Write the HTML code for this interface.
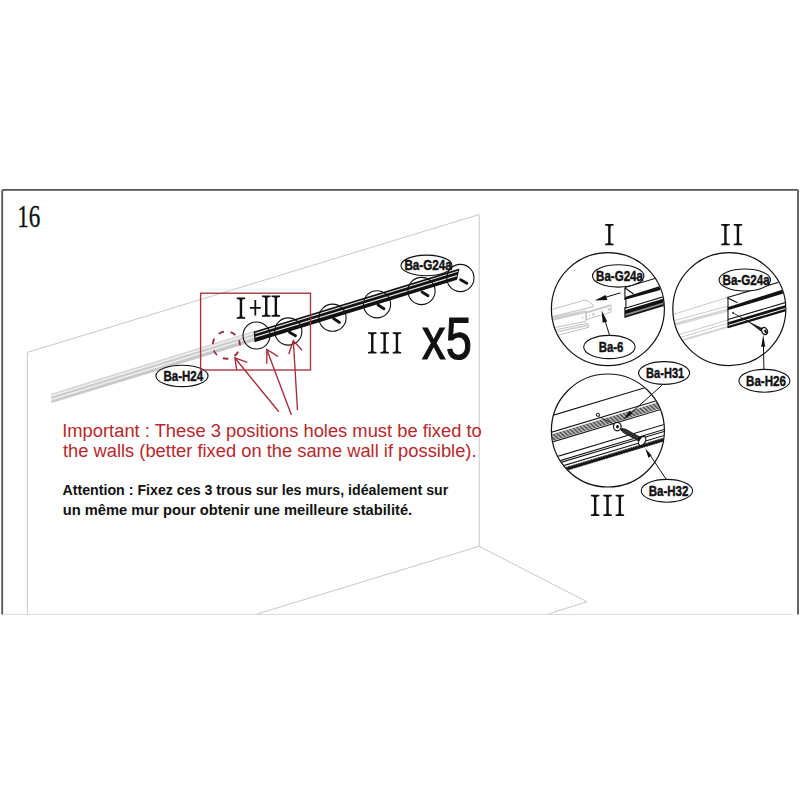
<!DOCTYPE html>
<html><head><meta charset="utf-8">
<style>
html,body{margin:0;padding:0;background:#fff;width:800px;height:800px;overflow:hidden}
svg{display:block;position:absolute;left:0;top:0}
.lbl{font-family:"Liberation Sans",sans-serif;font-weight:700;fill:#111;stroke:#111;stroke-width:0.45}
</style></head>
<body>
<svg width="800" height="800" viewBox="0 0 800 800">
<defs>
  <clipPath id="cI"><circle cx="607.9" cy="309.1" r="56.1"/></clipPath>
  <clipPath id="cII"><circle cx="729.3" cy="309.1" r="56.1"/></clipPath>
  <clipPath id="cIII"><circle cx="607.9" cy="430.5" r="56.1"/></clipPath>
  <path id="rI" d="M0 0 H8.5 V1.45 Q6 1.45 5.45 2.5 V18.7 Q6 19.75 8.5 19.75 V21.2 H0 V19.75 Q2.5 19.75 3.05 18.7 V2.5 Q2.5 1.45 0 1.45 Z" fill="#111"/>
  <pattern id="hatch" patternUnits="userSpaceOnUse" width="6" height="1.25" patternTransform="rotate(-16.7)">
    <rect width="6" height="1.25" fill="#c4c4c4"/><rect width="6" height="0.55" fill="#3a3a3a"/>
  </pattern>
  <pattern id="dots" patternUnits="userSpaceOnUse" width="2.6" height="4" patternTransform="rotate(-16.7)">
    <rect width="2.6" height="4" fill="#111"/><circle cx="1.3" cy="2" r="0.75" fill="#bbb"/>
  </pattern>
</defs>

<!-- frame -->
<path d="M2.2 614.6 V191.2 Q2.2 189.9 3.5 189.9 H796.7 Q798 189.9 798 191.2 V614.6" fill="none" stroke="#555" stroke-width="1.8"/>
<line x1="3" y1="614.5" x2="793" y2="614.5" stroke="#dcdcdc" stroke-width="1"/>

<!-- walls -->
<g stroke="#c9c9c9" stroke-width="1" fill="none">
  <path d="M27.4 614 V352.4 L479.2 214.5 V546.2"/>
  <path d="M256.2 614.3 L479.1 546.3 L587 601.8 L547.3 614.3"/>
</g>

<ellipse cx="426.5" cy="265.4" rx="25.5" ry="10.3" fill="#fff" stroke="#111" stroke-width="1.1"/>
<!-- rail -->
<g>
  <path d="M51.60 393.62 L254.40 330.75 L254.40 341.26 L51.60 403.12 Z" fill="#f5f5f5"/>
  <path d="M51.60 393.62 L255.00 330.57 L255.00 332.17 L51.60 395.22 Z" fill="#d6d6d6"/>
  <path d="M51.60 396.62 L255.00 333.57 L255.00 336.07 L51.60 399.12 Z" fill="#cdcdcd"/>
  <path d="M51.60 400.32 L255.00 337.27 L255.00 341.08 L51.60 403.12 Z" fill="#c9c9c9"/>
  <path d="M52 393.50 V403.00" stroke="#d0d0d0" stroke-width="0.8"/>
  <path d="M253.80 331.51 L459.50 268.56 L457.00 279.75 L254.50 342.32 Z" fill="#111"/>
  <path d="M255.20 332.83 L458.00 270.77 L458.00 271.82 L255.20 333.88 Z" fill="#e6e6e6"/>
  <path d="M255.40 336.62 L457.00 274.93 L457.00 276.13 L255.40 337.82 Z" fill="#e6e6e6"/>
</g>

<!-- rail circles -->
<g fill="none" stroke="#111" stroke-width="1.1">
  <circle cx="256.5" cy="335.5" r="13.5"/>
  <circle cx="288.3" cy="331.5" r="13.6"/>
  <circle cx="332.5" cy="317.7" r="13.6"/>
  <circle cx="377" cy="304.3" r="13.6"/>
  <circle cx="421.5" cy="291" r="13.6"/>
  <circle cx="460.4" cy="278" r="13.6"/>
</g>
<g stroke="#111" stroke-width="2.8" stroke-linecap="round">
  <line x1="289.5" y1="332.3" x2="295.5" y2="335.7"/>
  <line x1="333.5" y1="318.5" x2="339.5" y2="322.5"/>
  <line x1="378" y1="305" x2="384" y2="308.8"/>
  <line x1="422" y1="292" x2="428" y2="295.8"/>
  <line x1="460.6" y1="279.7" x2="466.8" y2="283.2"/>
</g>

<ellipse cx="182" cy="375.9" rx="26" ry="10.7" fill="#fff" stroke="#111" stroke-width="1.1"/>
<!-- red box + arrows -->
<g stroke="#a8303a" fill="none">
  <rect x="200.6" y="293.2" width="109.9" height="76.8" stroke-width="1.35" stroke="#a8323a"/>
  <circle cx="226.3" cy="345.1" r="13.6" stroke-width="1.85" stroke-dasharray="5.6 6.607" stroke-dashoffset="5.3" stroke="#9c2a3c"/>
  <g stroke-width="1.4">
    <path d="M278.8 411.8 L234.8 357.8 M236.8 370.5 L234.8 357.8 L247.3 362.3"/>
    <path d="M291.4 415 L266.8 349.5 M266.8 363.8 L266.8 349.5 L278 356.3"/>
    <path d="M297.5 410.3 L293.3 340.5 M288.8 354 L293.3 340.5 L302 350.3"/>
  </g>
</g>

<!-- main labels -->
<text class="lbl" font-size="15.2" x="163.5" y="381" textLength="39.6" lengthAdjust="spacingAndGlyphs">Ba-H24</text>
<text class="lbl" font-size="14.1" x="404.4" y="270.1" textLength="47.36" lengthAdjust="spacingAndGlyphs">Ba-G24a</text>

<!-- numbers / roman -->
<text x="17.28" y="227.4" font-family="Liberation Serif" font-size="31.6" fill="#111" stroke="#111" stroke-width="0.35" textLength="23.15" lengthAdjust="spacingAndGlyphs">16</text>
<use href="#rI" x="236.7" y="297.6"/>
<path d="M249.9 306.9 H260.8 V308.7 H249.9 Z M254.4 300.1 H256.2 V315.5 H254.4 Z" fill="#111"/>
<use href="#rI" x="262" y="295.5"/>
<use href="#rI" x="271.6" y="295.5"/>
<use href="#rI" x="368" y="332.3"/>
<use href="#rI" x="380.4" y="332.3"/>
<use href="#rI" x="392.7" y="332.3"/>
<text x="422.11" y="359" font-family="Liberation Sans" font-size="59.3" fill="#111" stroke="#111" stroke-width="1.2" textLength="49.69" lengthAdjust="spacingAndGlyphs">x5</text>

<!-- red text -->
<g font-family="Liberation Sans" font-size="18.67" fill="#b8282c">
  <text x="62.22" y="436.5" textLength="419.61" lengthAdjust="spacingAndGlyphs">Important : These 3 positions holes must be fixed to</text>
  <text x="62.9" y="457.1" textLength="413.68" lengthAdjust="spacingAndGlyphs">the walls (better fixed on the same wall if possible).</text>
</g>
<g font-family="Liberation Sans" font-weight="700" font-size="14" fill="#111">
  <text x="62.5" y="494.6" textLength="385.75" lengthAdjust="spacingAndGlyphs">Attention : Fixez ces 3 trous sur les murs, idéalement sur</text>
  <text x="62.7" y="514.5" textLength="349.45" lengthAdjust="spacingAndGlyphs">un même mur pour obtenir une meilleure stabilité.</text>
</g>

<!-- detail roman labels -->
<use href="#rI" x="605.1" y="224"/>
<use href="#rI" x="721.2" y="224"/>
<use href="#rI" x="733.7" y="224"/>
<use href="#rI" x="590.9" y="494.8"/>
<use href="#rI" x="603.3" y="494.8"/>
<use href="#rI" x="615.6" y="494.8"/>

<!-- ===== DETAIL I ===== -->
<g clip-path="url(#cI)">
  <!-- gray rail -->
  <path d="M550 317.4 L586 310 L586 313 L550 321.6 Z" fill="#cfcfcf"/>
  <path d="M557.5 330.8 L587.8 324.4 L588.2 326.2 L558 332.5 Z" fill="#d3d3d3"/>
  <g stroke="#b9b9b9" stroke-width="0.9" fill="none">
    <path d="M548 310.6 L584 300.3 Q586 299.6 588 301 L594 305.8"/>
    <path d="M548 317.6 L594 306.5"/>
    <path d="M586 311 V321.5"/>
    <path d="M548 328.9 L586 321.3"/>
    <path d="M548 331.4 L587.6 323.3"/>
    <path d="M548 337.8 L588.8 327.3 L587.6 323.3"/>
  </g>
  <!-- plate Ba-6 -->
  <path d="M586.3 312.2 L611 304.8 L611 312.2 L586.4 319.5 Z" fill="#fff" stroke="#b0b0b0" stroke-width="0.8"/>
  <path d="M586.3 312.2 L611 304.8 L611 306.2 L586.3 313.6 Z" fill="#c8c8c8"/>
  <g fill="none" stroke="#999" stroke-width="0.6"><circle cx="593.5" cy="314.3" r="0.9"/><circle cx="609" cy="309.5" r="0.9"/></g>
  <g fill="#999"><circle cx="589.5" cy="315.3" r="0.5"/><circle cx="582.5" cy="317.8" r="0.6"/></g>
  <!-- black profile -->
  <g stroke="#111" fill="none" stroke-width="1.1">
    <path d="M625 287.5 L672 273.4"/>
    <path d="M625 288 L633.6 294"/>
    <path d="M624.9 287.5 V300 M625.9 299.5 V307.6 M624.9 307 V317.7"/>
    <path d="M625 308.3 L672 294.2"/>
  </g>
  <path d="M625 296.9 L672 282.2 L672 286.7 L625 299.7 Z" fill="#111"/>
  <path d="M625 310.3 L672 296.2 L672 303.7 L625 317.8 Z" fill="#111"/>
  <path d="M625.5 313.9 L672 299.9 L672 301.6 L625.5 315.9 Z" fill="#8a8a8a"/>
  <!-- arrows -->
  <g stroke="#111" stroke-width="1" fill="#111">
    <path d="M620.5 292.8 L600 298.9"/>
    <path d="M594.8 300.6 L605.6 295.1 L607.3 299.9 Z" stroke="none"/>
    <path d="M609.6 335.5 L603.6 316"/>
    <path d="M601.6 310.5 L602.7 322.8 L607.3 321.4 Z" stroke="none"/>
  </g>
</g>
<g fill="#fff" stroke="#111" stroke-width="1.1">
  <ellipse cx="618.2" cy="275.9" rx="25.7" ry="11.2"/>
  <ellipse cx="609.4" cy="347" rx="25.7" ry="11.6"/>
</g>
<text class="lbl" font-size="14.1" x="596.1" y="280.75" textLength="46.85" lengthAdjust="spacingAndGlyphs">Ba-G24a</text>
<text class="lbl" font-size="15.2" x="598.75" y="352.25" textLength="24.69" lengthAdjust="spacingAndGlyphs">Ba-6</text>
<circle cx="607.9" cy="309.1" r="56.5" fill="none" stroke="#111" stroke-width="1.2"/>

<!-- ===== DETAIL II ===== -->
<g clip-path="url(#cII)">
  <g stroke="#c4c4c4" stroke-width="0.9" fill="none">
    <path d="M670 315.4 L727.4 297.5"/>
    <path d="M670 321.8 L728 306"/>
    <path d="M670 337.3 L728 320"/>
    <path d="M670 340.5 L728 323.2"/>
  </g>
  <path d="M670 324.1 L728 308.6 L728 311.6 L670 327.2 Z" fill="#d6d6d6"/>
  <path d="M670 343 L728 325.7 L728 327.7 L670 345 Z" fill="#d2d2d2"/>
  <g stroke="#111" fill="none" stroke-width="1.1">
    <path d="M727.4 297.5 L792 278.4"/>
    <path d="M727.4 297.7 L737.5 302.8"/>
    <path d="M728 297.5 V328"/>
    <path d="M728 319.5 L792 300.6"/>
  </g>
  <path d="M727.6 307.3 L792 286.6 L792 291 L727.6 310.3 Z" fill="#111"/>
  <path d="M728 322.2 L792 303.1 L792 306 L728 325.1 Z" fill="#111"/>
  <path d="M728 326.1 L792 307 L792 309.4 L728 328.3 Z" fill="#111"/>
  <circle cx="733" cy="312.8" r="0.9" fill="#111"/>
  <path d="M733 312.8 L750 322.6" stroke="#111" stroke-width="0.8"/>
  <path d="M748.79 322.34 L761.95 332.30 L764.05 328.90 L749.21 321.66 Z" fill="#222"/>
  <ellipse cx="764.6" cy="331" rx="2.7" ry="3.7" transform="rotate(-25 764.6 331)" fill="#fff" stroke="#111" stroke-width="1.2"/>
  <ellipse cx="765.5" cy="331.5" rx="1.2" ry="2" transform="rotate(-25 765.5 331.5)" fill="#111"/>
</g>
<g fill="#fff" stroke="#111" stroke-width="1.1">
  <ellipse cx="744.8" cy="280" rx="25.7" ry="11"/>
</g>
<text class="lbl" font-size="14.5" x="722.5" y="285.35" textLength="47.12" lengthAdjust="spacingAndGlyphs">Ba-G24a</text>
<circle cx="729.3" cy="309.1" r="56.5" fill="none" stroke="#111" stroke-width="1.2"/>
<path d="M763.9 369.5 L763.4 344" stroke="#111" stroke-width="1"/>
<path d="M763.2 334.8 L761.2 346.7 L765.2 346.7 Z" fill="#111"/>
<ellipse cx="764.4" cy="380.8" rx="25.5" ry="11.4" fill="#fff" stroke="#111" stroke-width="1.1"/>
<text class="lbl" font-size="14.6" x="746" y="385.9" textLength="39.99" lengthAdjust="spacingAndGlyphs">Ba-H26</text>

<!-- ===== DETAIL III ===== -->
<g clip-path="url(#cIII)">
  <g stroke="#111" fill="none" stroke-width="1.1">
    <path d="M548 416.8 L668 380.8"/>
    <path d="M548 433.3 L668 397.3"/>
    <path d="M548 443.3 L668 407.3"/>
    <path d="M548 459.3 L668 423.3"/>
    <path d="M548 464.3 L668 428.3"/>
    <path d="M548 466.3 L668 430.3"/>
    <path d="M548 470.3 L668 434.3"/>
  </g>
  <path d="M548 435.3 L668 399.3 L668 406.3 L548 442.3 Z" fill="url(#hatch)"/>
  <path d="M548 472.3 L668 436.3 L668 440.3 L548 476.3 Z" fill="url(#dots)"/>
  <circle cx="597.9" cy="414.8" r="1.6" fill="#fff" stroke="#111" stroke-width="1"/>
  <path d="M599 416.7 L614.7 424.6" stroke="#111" stroke-width="0.8"/>
  <ellipse cx="617.3" cy="426.6" rx="3.8" ry="4.3" fill="#fff" stroke="#111" stroke-width="1.2"/>
  <ellipse cx="617.5" cy="426.8" rx="1.4" ry="1.7" fill="#111"/>
  <path d="M621.48 428.12 L625.71 428.75 L641.01 437.21 L638.59 441.59 L623.29 433.12 L620.52 429.88 Z" fill="#111"/>
  <path d="M624.39 428.25 L622.86 432.66 M625.79 429.02 L624.26 433.43 M627.19 429.79 L625.66 434.21 M628.59 430.57 L627.06 434.98 M629.99 431.34 L628.46 435.76 M631.39 432.12 L629.86 436.53 M632.79 432.89 L631.26 437.31 M634.19 433.67 L632.66 438.08 M635.59 434.44 L634.06 438.85 M636.99 435.22 L635.46 439.63 M638.39 435.99 L636.86 440.40" stroke="#888" stroke-width="0.45"/>
  <ellipse cx="642.2" cy="441" rx="3" ry="5" transform="rotate(30 642.2 441)" fill="#fff" stroke="#111" stroke-width="1.2"/>
</g>
<circle cx="607.9" cy="430.5" r="56.5" fill="none" stroke="#111" stroke-width="1.2"/>
<path d="M661.9 385.3 L627 416.5" stroke="#111" stroke-width="1"/>
<path d="M623 420 L632.2 413.8 L629.5 411 Z" fill="#111"/>
<path d="M666.5 479.8 L648 452" stroke="#111" stroke-width="1"/>
<path d="M645.3 448.6 L648.4 457.8 L651.6 455.6 Z" fill="#111"/>
<g fill="#fff" stroke="#111" stroke-width="1.1">
  <ellipse cx="664.1" cy="373" rx="25.5" ry="11.4"/>
  <ellipse cx="666.9" cy="490.8" rx="25.7" ry="11.4"/>
</g>
<text class="lbl" font-size="15.2" x="646.1" y="378" textLength="38.15" lengthAdjust="spacingAndGlyphs">Ba-H31</text>
<text class="lbl" font-size="14.9" x="648.75" y="495.65" textLength="39.59" lengthAdjust="spacingAndGlyphs">Ba-H32</text>

</svg>
</body></html>
